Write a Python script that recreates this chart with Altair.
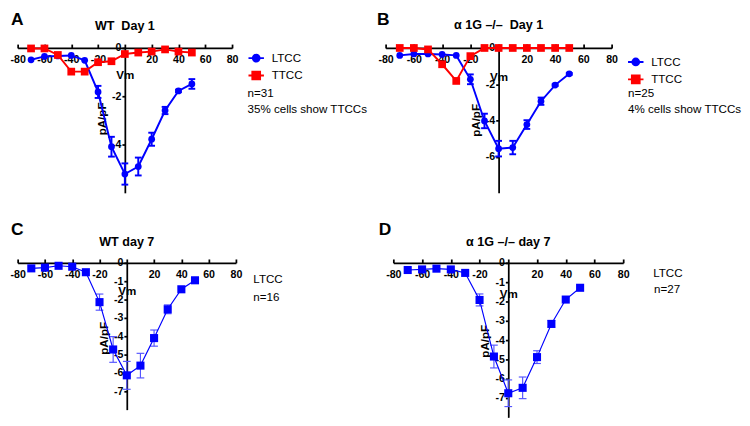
import altair as alt
import pandas as pd

# ---------------- data ----------------
volts = [-70, -60, -50, -40, -30, -20, -10, 0, 10, 20, 30, 40, 50]
series_names = ["LTCC", "TTCC"]

a_ltcc = [-0.49, -0.35, -0.33, -0.31, -0.51, -1.82, -4.09, -5.22, -4.91, -3.78, -2.59, -1.78, -1.49]
a_ltcc_err = [0, 0, 0, 0, 0, 0.25, 0.41, 0.44, 0.37, 0.27, 0.15, 0.05, 0.2]
a_ttcc = [-0.02, -0.02, -0.29, -0.98, -0.98, -0.59, -0.55, -0.25, -0.19, -0.15, -0.06, -0.15, -0.19]

b_ltcc = [-0.41, -0.33, -0.33, -0.36, -0.41, -1.73, -4.03, -5.56, -5.5, -4.23, -2.94, -2.05, -1.43]
b_ltcc_err = [0, 0, 0, 0, 0, 0.27, 0.4, 0.43, 0.37, 0.24, 0.2, 0.05, 0.05]
b_ttcc = [0, 0, -0.08, -0.9, -1.82, -0.45, 0, 0, 0, 0, 0, 0, 0]

c_ltcc = [-0.3, -0.26, -0.16, -0.21, -0.51, -2.14, -4.72, -6.13, -5.6, -4.1, -2.53, -1.44, -0.95]
c_ltcc_err = [0, 0, 0, 0, 0, 0.44, 0.7, 0.76, 0.67, 0.44, 0.24, 0, 0]

d_ltcc = [-0.37, -0.34, -0.3, -0.34, -0.52, -1.92, -4.85, -6.75, -6.47, -4.88, -3.16, -1.9, -1.29]
d_ltcc_err = [0, 0, 0, 0, 0, 0.31, 0.59, 0.69, 0.56, 0.33, 0.17, 0, 0]

panel_letters = ["A", "B", "C", "D"]
panel_titles = ["WT\u00a0 Day 1", "\u03b1 1G \u2013/\u2013\u00a0 Day 1", "WT day 7", "\u03b1 1G \u2013/\u2013 day 7"]
panel_notes = [["n=31", "35% cells show TTCCs"], ["n=25", "4% cells show TTCCs"], ["n=16"], ["n=27"]]
x_ticks = [-80, -60, -40, -20, 0, 20, 40, 60, 80]

FONT = "Liberation Sans"
BLUE = "#0000ff"
RED = "#ff0000"
LIGHTBLUE = "#5555ff"

XLAB = "datum.value == 0 ? '' : (datum.value < 0 ? '-' + abs(datum.value) : '' + datum.value)"
YLAB = "datum.value == 0 ? '0' : '-' + abs(datum.value)"

LEG_PATHS = [
    "M-1,0L1,0M0.44,0A0.44,0.44,0,1,1,-0.44,0A0.44,0.44,0,1,1,0.44,0Z",
    "M-1,0L1,0M-0.5,-0.5L0.5,-0.5L0.5,0.5L-0.5,0.5Z",
]


def make_df(vals, errs, name):
    errs = errs if errs is not None else [0] * len(vals)
    return pd.DataFrame({
        "v": volts,
        "i": vals,
        "lo": [a - e for a, e in zip(vals, errs)],
        "hi": [a + e for a, e in zip(vals, errs)],
        "e": errs,
        "series": name,
    })


def panel(idx, series, w, h, ymin, yvals, vm_y, pa_y, title_y, letter_xy,
          legend_xy=None, note_xy=None, ltcc_text_xy=None):
    xs = alt.Scale(domain=[-80, 80], nice=False, zero=False)
    ys = alt.Scale(domain=[ymin, 0], nice=False, zero=False)
    xaxis = alt.Axis(orient="top", values=x_ticks, labelExpr=XLAB, tickSize=4,
                     labelPadding=-16, labelBaseline="middle", labelFlush=False,
                     labelOverlap=False, title="Vm", titleX=w / 2, titleY=vm_y,
                     titleAlign="center", titleBaseline="middle", grid=False)
    yaxis = alt.Axis(orient="left", offset=-w / 2, values=yvals, labelExpr=YLAB,
                     tickSize=3, labelPadding=1, labelFlush=False, labelOverlap=False,
                     title="pA/pF", titleX=-24, titleY=pa_y, titleAngle=270,
                     titleAlign="center", titleBaseline="middle", grid=False)

    def X(f):
        return alt.X(f, scale=xs, axis=xaxis)

    def Y(f):
        return alt.Y(f, scale=ys, axis=yaxis)

    layers = []
    for s in series:
        df = make_df(s["vals"], s.get("errs"), s["name"])
        base = alt.Chart(df)
        eb = base.transform_filter("datum.e > 0")
        cw = s["cap"] / 2
        layers.append(eb.mark_rule(color=s["ecolor"], strokeWidth=s["ew"]).encode(
            x=X("v:Q"), y=Y("lo:Q"), y2="hi:Q"))
        for f in ["lo", "hi"]:
            layers.append(eb.mark_rule(color=s["ecolor"], strokeWidth=s["ew"],
                                       xOffset=-cw, x2Offset=cw).encode(
                x=X("v:Q"), x2="v:Q", y=Y(f + ":Q")))
        layers.append(base.mark_line(color=s["color"], strokeWidth=s["lw"]).encode(
            x=X("v:Q"), y=Y("i:Q")))
        layers.append(base.mark_point(filled=True, shape=s["shape"], size=s["size"],
                                      color=s["color"], opacity=1, strokeWidth=0).encode(
            x=X("v:Q"), y=Y("i:Q")))

    if legend_xy is not None:
        leg = alt.Legend(orient="none", legendX=legend_xy[0], legendY=legend_xy[1],
                         title=None, symbolSize=256, symbolStrokeWidth=2,
                         labelFont=FONT, labelFontSize=12, labelColor="black",
                         labelOffset=7, rowPadding=1, symbolOpacity=1)
        ldf = pd.DataFrame({"series": series_names})
        layers.append(alt.Chart(ldf).transform_filter("false").mark_point(
            filled=True, size=256, opacity=1, strokeWidth=2).encode(
            fill=alt.Fill("series:N", scale=alt.Scale(domain=series_names, range=[BLUE, RED]), legend=leg),
            stroke=alt.Stroke("series:N", scale=alt.Scale(domain=series_names, range=[BLUE, RED]), legend=leg),
            shape=alt.Shape("series:N", scale=alt.Scale(domain=series_names, range=LEG_PATHS), legend=leg),
        ))

    def txt(t, x, y, size=12, weight="normal", align="left", baseline="middle"):
        return alt.Chart(pd.DataFrame({"t": [t]})).mark_text(
            font=FONT, fontSize=size, fontWeight=weight, align=align,
            baseline=baseline, color="black").encode(
            text="t:N", x=alt.value(x), y=alt.value(y))

    layers.append(txt(panel_titles[idx], w / 2, title_y, size=13, weight="bold",
                      align="center", baseline="alphabetic"))
    layers.append(txt(panel_letters[idx], letter_xy[0], letter_xy[1], size=18,
                      weight="bold", baseline="alphabetic"))
    if ltcc_text_xy is not None:
        layers.append(txt(series_names[0], ltcc_text_xy[0], ltcc_text_xy[1]))
    for k, n in enumerate(panel_notes[idx]):
        layers.append(txt(n, note_xy[0], note_xy[1] + 17 * k))

    return alt.layer(*layers).properties(width=w, height=h)


big = dict(lw=2, ew=2, cap=7, ecolor=BLUE)
A = panel(0, [
    dict(name="LTCC", vals=a_ltcc, errs=a_ltcc_err, color=BLUE, shape="circle", size=49, **big),
    dict(name="TTCC", vals=a_ttcc, errs=None, color=RED, shape="square", size=64,
         lw=2, ew=2, cap=7, ecolor=RED),
], 222, 150, -6, [0, -2, -4], vm_y=27.5, pa_y=73, title_y=-18.5,
    letter_xy=(-7, -23.5), legend_xy=(238, 1.5), note_xy=(238, 46.5))

B = panel(1, [
    dict(name="LTCC", vals=b_ltcc, errs=b_ltcc_err, color=BLUE, shape="circle", size=49, **big),
    dict(name="TTCC", vals=b_ttcc, errs=None, color=RED, shape="square", size=64,
         lw=2, ew=2, cap=7, ecolor=RED),
], 234, 150, -8, [0, -2, -4, -6], vm_y=29.5, pa_y=74.5, title_y=-19.5,
    letter_xy=(-9, -23.5), legend_xy=(250, 5.5), note_xy=(251, 46.5))

small = dict(lw=1.2, ew=1.2, cap=8, ecolor=LIGHTBLUE)
C = panel(2, [
    dict(name="LTCC", vals=c_ltcc, errs=c_ltcc_err, color=BLUE, shape="square", size=70, **small),
], 226, 152, -8, [0, -1, -2, -3, -4, -5, -6, -7], vm_y=28.7, pa_y=77.7, title_y=-17.6,
    letter_xy=(-7, -29.3), note_xy=(244, 35.7), ltcc_text_xy=(244, 16.7))

D = panel(3, [
    dict(name="LTCC", vals=d_ltcc, errs=d_ltcc_err, color=BLUE, shape="square", size=70, **small),
], 238, 160, -8, [0, -1, -2, -3, -4, -5, -6, -7], vm_y=31.7, pa_y=80.7, title_y=-17.6,
    letter_xy=(-15, -29.3), note_xy=(270, 27.7), ltcc_text_xy=(269, 10.7))

INDEP = dict(fill="independent", stroke="independent", shape="independent")

row1 = alt.hconcat(A, B, spacing=159, bounds="flush").resolve_scale(**INDEP).resolve_legend(**INDEP)
row2 = alt.hconcat(C, D, spacing=163, bounds="flush")

chart = alt.vconcat(row1, row2, spacing=28.5, bounds="full").resolve_scale(**INDEP).resolve_legend(**INDEP).properties(
    padding={"left": 2, "top": -4, "right": 0, "bottom": 0}
).configure_view(stroke=None).configure_axis(
    domainColor="black", domainWidth=1.8, tickColor="black", tickWidth=1.8,
    labelFont=FONT, labelFontSize=11, labelFontWeight="bold", labelColor="black",
    titleFont=FONT, titleFontSize=12, titleFontWeight="bold", titleColor="black",
)

chart.save("out.html", embed_options={"renderer": "svg", "actions": False})
